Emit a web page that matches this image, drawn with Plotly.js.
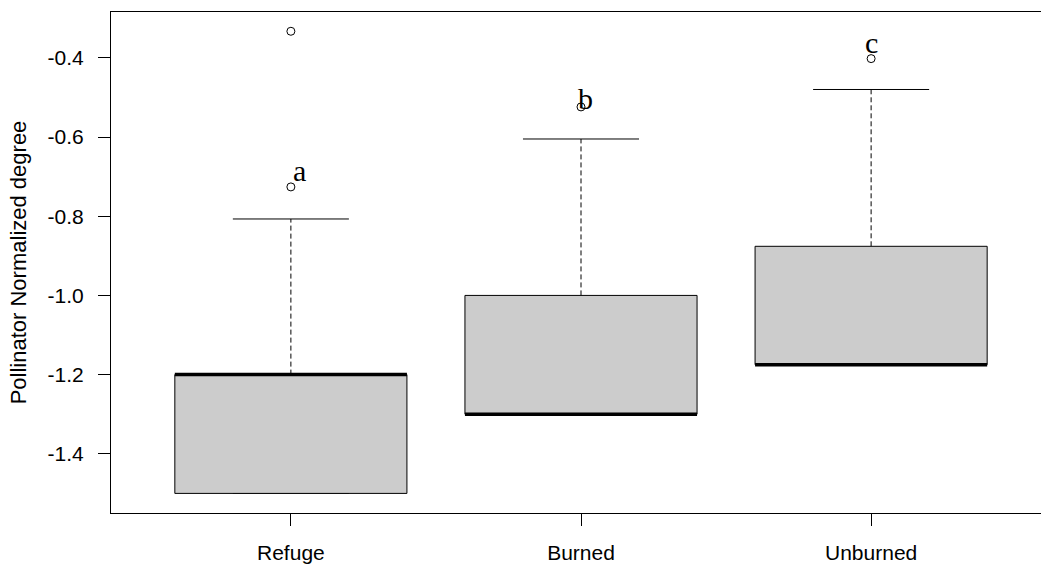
<!DOCTYPE html>
<html>
<head>
<meta charset="utf-8">
<script src="https://cdn.plot.ly/plotly-3.0.1.min.js"></script>
<style>
  html, body { margin: 0; padding: 0; overflow: hidden; background: #ffffff; }
  #chart { width: 1061px; height: 565px; }
</style>
</head>
<body>
<div id="chart"></div>
<script>
// Groups and their five-number summaries
const groups = ['Refuge', 'Burned', 'Unburned'];
const lowerWhisker = [-1.500, -1.300, -1.175];
const q1 = [-1.500, -1.300, -1.175];
const medians = [-1.200, -1.300, -1.175];
const q3 = [-1.200, -1.000, -0.876];
const upperWhisker = [-0.807, -0.605, -0.480];

// Points beyond the whiskers
const outliers = [[-0.726, -0.333], [-0.524], [-0.402]];

// Significance letters and where they sit
const letters = ['a', 'b', 'c'];
const letterX = [1.03, 2.015, 3.0];
const letterY = [-0.712, -0.530, -0.389];

const yTicks = [-1.4, -1.2, -1.0, -0.8, -0.6, -0.4];

const halfBox = 0.4;
const halfCap = 0.2;
const traces = [];

groups.forEach((g, i) => {
  const x = i + 1;
  // whiskers (dashed)
  traces.push({
    x: [x, x], y: [q3[i], upperWhisker[i]], mode: 'lines', type: 'scatter',
    line: { color: '#000000', width: 1, dash: '5px,3px' }, hoverinfo: 'skip', showlegend: false
  });
  traces.push({
    x: [x, x], y: [q1[i], lowerWhisker[i]], mode: 'lines', type: 'scatter',
    line: { color: '#000000', width: 1, dash: '5px,3px' }, hoverinfo: 'skip', showlegend: false
  });
  // staples
  [upperWhisker[i], lowerWhisker[i]].forEach(v => {
    traces.push({
      x: [x - halfCap, x + halfCap], y: [v, v], mode: 'lines', type: 'scatter',
      line: { color: '#000000', width: 1 }, hoverinfo: 'skip', showlegend: false
    });
  });
  // box
  traces.push({
    x: [x - halfBox, x + halfBox, x + halfBox, x - halfBox, x - halfBox],
    y: [q1[i], q1[i], q3[i], q3[i], q1[i]],
    mode: 'lines', type: 'scatter', fill: 'toself', fillcolor: '#cccccc',
    line: { color: '#000000', width: 1 }, name: g, showlegend: false
  });
  // median
  traces.push({
    x: [x - halfBox, x + halfBox], y: [medians[i], medians[i]], mode: 'lines', type: 'scatter',
    line: { color: '#000000', width: 3.5 }, hoverinfo: 'skip', showlegend: false
  });
  // outliers
  traces.push({
    x: outliers[i].map(() => x), y: outliers[i], mode: 'markers', type: 'scatter',
    marker: { symbol: 'circle-open', size: 8, color: '#000000', line: { width: 1, color: '#000000' } },
    showlegend: false
  });
});

const annotations = letters.map((t, i) => ({
  x: letterX[i], y: letterY[i], xref: 'x', yref: 'y',
  text: t, showarrow: false, xanchor: 'center', yanchor: 'bottom', yshift: -8,
  font: { family: 'Liberation Serif, Times New Roman, serif', size: 30, color: '#000000' }
}));

const layout = {
  width: 1061, height: 565,
  margin: { l: 111, r: 10, t: 12, b: 52, pad: 0 },
  paper_bgcolor: '#ffffff', plot_bgcolor: '#ffffff',
  showlegend: false,
  font: { family: 'Liberation Sans, Arial, sans-serif', size: 21, color: '#000000' },
  xaxis: {
    range: [0.38, 3.62], tickmode: 'array', tickvals: [1, 2, 3], ticktext: groups,
    showgrid: false, zeroline: false, showline: true, linecolor: '#000000', linewidth: 1,
    mirror: true, ticks: 'outside', ticklen: 12, tickcolor: '#000000', tickwidth: 1,
    ticklabelstandoff: 9,
    tickfont: { size: 21, color: '#000000' }
  },
  yaxis: {
    range: [-1.5495, -0.2843], tickmode: 'array', tickvals: yTicks,
    ticktext: yTicks.map(v => v.toFixed(1)),
    showgrid: false, zeroline: false, showline: true, linecolor: '#000000', linewidth: 1,
    mirror: true, ticks: 'outside', ticklen: 12, tickcolor: '#000000', tickwidth: 1,
    ticklabelstandoff: 10,
    tickfont: { size: 21, color: '#000000' },
    title: { text: 'Pollinator Normalized degree', font: { size: 22, color: '#000000' }, standoff: 14 },
    automargin: false
  },
  annotations: annotations
};

Plotly.newPlot('chart', traces, layout, { staticPlot: true, displayModeBar: false });
</script>
</body>
</html>
